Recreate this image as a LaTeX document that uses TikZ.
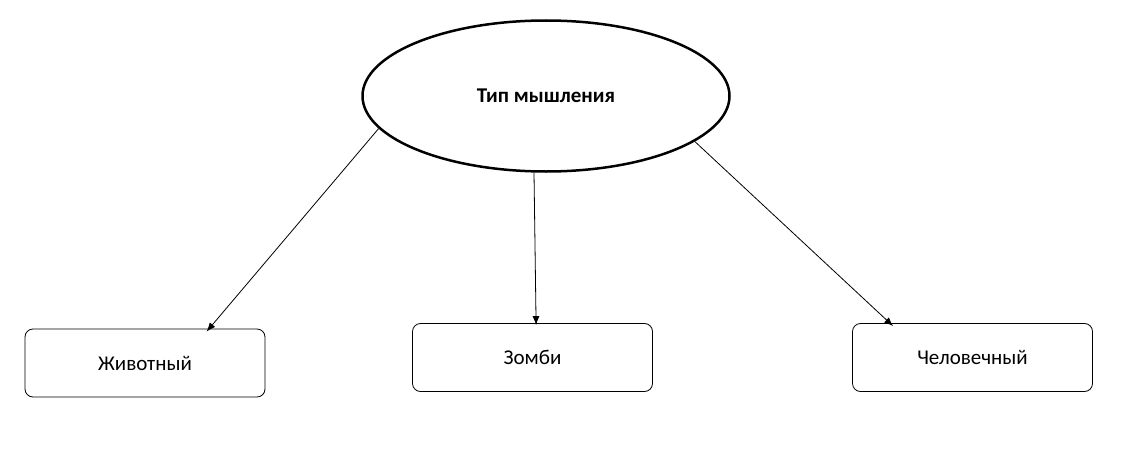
\documentclass[tikz,border=0pt]{standalone}
\usepackage{fontspec}
\setmainfont{Carlito}
\usetikzlibrary{shapes.geometric,arrows.meta}
\begin{document}
\begin{tikzpicture}[x=1pt,y=-1pt,
  box/.style={draw,rounded corners=8pt,minimum width=240pt,minimum height=68pt,inner sep=0pt,line width=0.8pt,font=\fontsize{21}{24}\selectfont},
  arr/.style={-{Latex[length=9pt,width=7pt]},line width=0.8pt}]
\useasboundingbox (0,0) rectangle (1129,460);
\node[ellipse,draw,line width=2.5pt,minimum width=367pt,minimum height=151pt,inner sep=0pt,font=\bfseries\fontsize{21}{24}\selectfont] (e) at (546,96) {Тип мышления};
\node[box] (b1) at (145,363) {Животный};
\node[box] (b2) at (532.5,357.5) {Зомби};
\node[box] (b3) at (972.5,357.5) {Человечный};
\draw[arr] (e.191) -- ([xshift=182pt,yshift=-3pt]b1.north west);
\draw[arr] ([xshift=-12pt]e.south) -- ([xshift=124pt,yshift=-2pt]b2.north west);
\draw[arr] (e.-17) -- ([xshift=41pt,yshift=-3pt]b3.north west);
\end{tikzpicture}
\end{document}
